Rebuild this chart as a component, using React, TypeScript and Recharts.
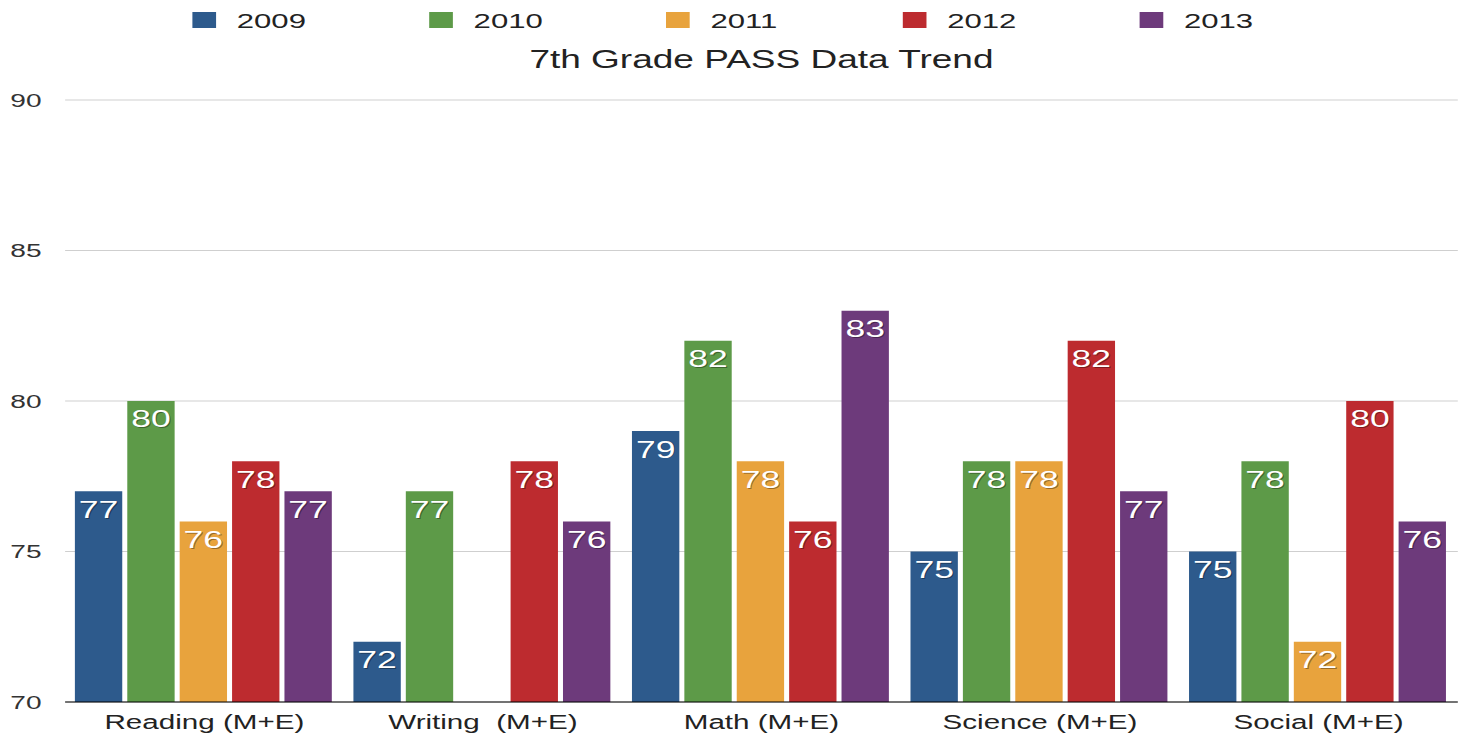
import { BarChart, Bar, XAxis, YAxis, CartesianGrid, LabelList, Legend } from 'recharts';

const categories = ['Reading (M+E)', 'Writing  (M+E)', 'Math (M+E)', 'Science (M+E)', 'Social (M+E)'];
const years = ['2009', '2010', '2011', '2012', '2013'];
const values2009 = [77, 72, 79, 75, 75];
const values2010 = [80, 77, 82, 78, 78];
const values2011 = [76, null, 78, 78, 72];
const values2012 = [78, 78, 76, 82, 80];
const values2013 = [77, 76, 83, 77, 76];
const yTicks = [70, 75, 80, 85, 90];

const COLORS = ['#2d5a8c', '#5d9a48', '#e8a33d', '#bd2b2f', '#6d3a7b'];
const FONT = '"Liberation Sans", Arial, Helvetica, sans-serif';

// the original picture is stretched sideways, so the whole chart is drawn narrow and scaled
const SX = 1.48;
const W = Math.round(1468 / SX);
const H = 740;

const seriesValues = [values2009, values2010, values2011, values2012, values2013];
const data = categories.map((name, i) => {
    const row: Record<string, string | number | null> = { name };
    years.forEach((y, j) => {
        row[y] = seriesValues[j][i];
    });
    return row;
});

const YTick = (props: any) => {
    const { y, payload } = props;
    return (
        <text x={7} y={y} dy="0.35em" textAnchor="start" fontSize={19} fill="#333" fontFamily={FONT}>
            {payload.value}
        </text>
    );
};

const XTick = (props: any) => {
    const { x, y, payload } = props;
    return (
        <text x={x} y={y + 19} textAnchor="middle" fontSize={20} fill="#222" fontFamily={FONT} style={{ whiteSpace: 'pre' }}>
            {payload.value}
        </text>
    );
};

const BarValue = (props: any) => {
    const { x, y, width, value } = props;
    if (value === null || value === undefined) return null;
    const cx = x + width / 2;
    const cy = y + 18;
    return (
        <g>
            <text x={cx + 0.8} y={cy + 1} dy="0.35em" textAnchor="middle" fontSize={24} fill="rgba(0,0,0,0.35)" fontFamily={FONT}>
                {value}
            </text>
            <text x={cx} y={cy} dy="0.35em" textAnchor="middle" fontSize={24} fill="#fff" fontFamily={FONT}>
                {value}
            </text>
        </g>
    );
};

const TopLegend = () => (
    <div style={{ position: 'relative', width: W, height: 40, fontFamily: FONT }}>
        {years.map((y, i) => (
            <div key={y} style={{ position: 'absolute', left: 130 + i * 160, top: 0, height: 40 }}>
                <div style={{ position: 'absolute', left: 0, top: 12, width: 16, height: 16, background: COLORS[i] }} />
                <div style={{ position: 'absolute', left: 30, top: 9, fontSize: 21, lineHeight: '24px', color: '#222' }}>{y}</div>
            </div>
        ))}
    </div>
);

export default function App() {
    return (
        <div style={{ position: 'absolute', left: 0, top: 0, width: W, height: H, transform: `scale(${SX}, 1)`, transformOrigin: '0 0', background: '#fff' }}>
            <div
                style={{
                    position: 'absolute',
                    left: 44,
                    width: 941,
                    top: 45,
                    textAlign: 'center',
                    fontFamily: FONT,
                    fontSize: 25,
                    lineHeight: '28px',
                    color: '#222',
                    zIndex: 2,
                }}
            >
                7th Grade PASS Data Trend
            </div>
            <BarChart
                width={W}
                height={H}
                data={data}
                margin={{ top: 60, right: 7, bottom: 0, left: 0 }}
                barCategoryGap={6.6}
                barGap={3.4}
            >
                <CartesianGrid vertical={false} stroke="#cfcfcf" />
                <XAxis dataKey="name" height={38} tickLine={false} axisLine={{ stroke: '#000' }} tick={<XTick />} interval={0} />
                <YAxis
                    width={44}
                    domain={[70, 90]}
                    ticks={yTicks}
                    allowDataOverflow
                    axisLine={false}
                    tickLine={false}
                    tick={<YTick />}
                />
                <Legend verticalAlign="top" height={40} wrapperStyle={{ position: 'absolute', top: 0, left: 0, width: W }} content={<TopLegend />} />
                {years.map((y, i) => (
                    <Bar key={y} dataKey={y} fill={COLORS[i]} isAnimationActive={false}>
                        <LabelList dataKey={y} content={<BarValue />} />
                    </Bar>
                ))}
            </BarChart>
        </div>
    );
}
